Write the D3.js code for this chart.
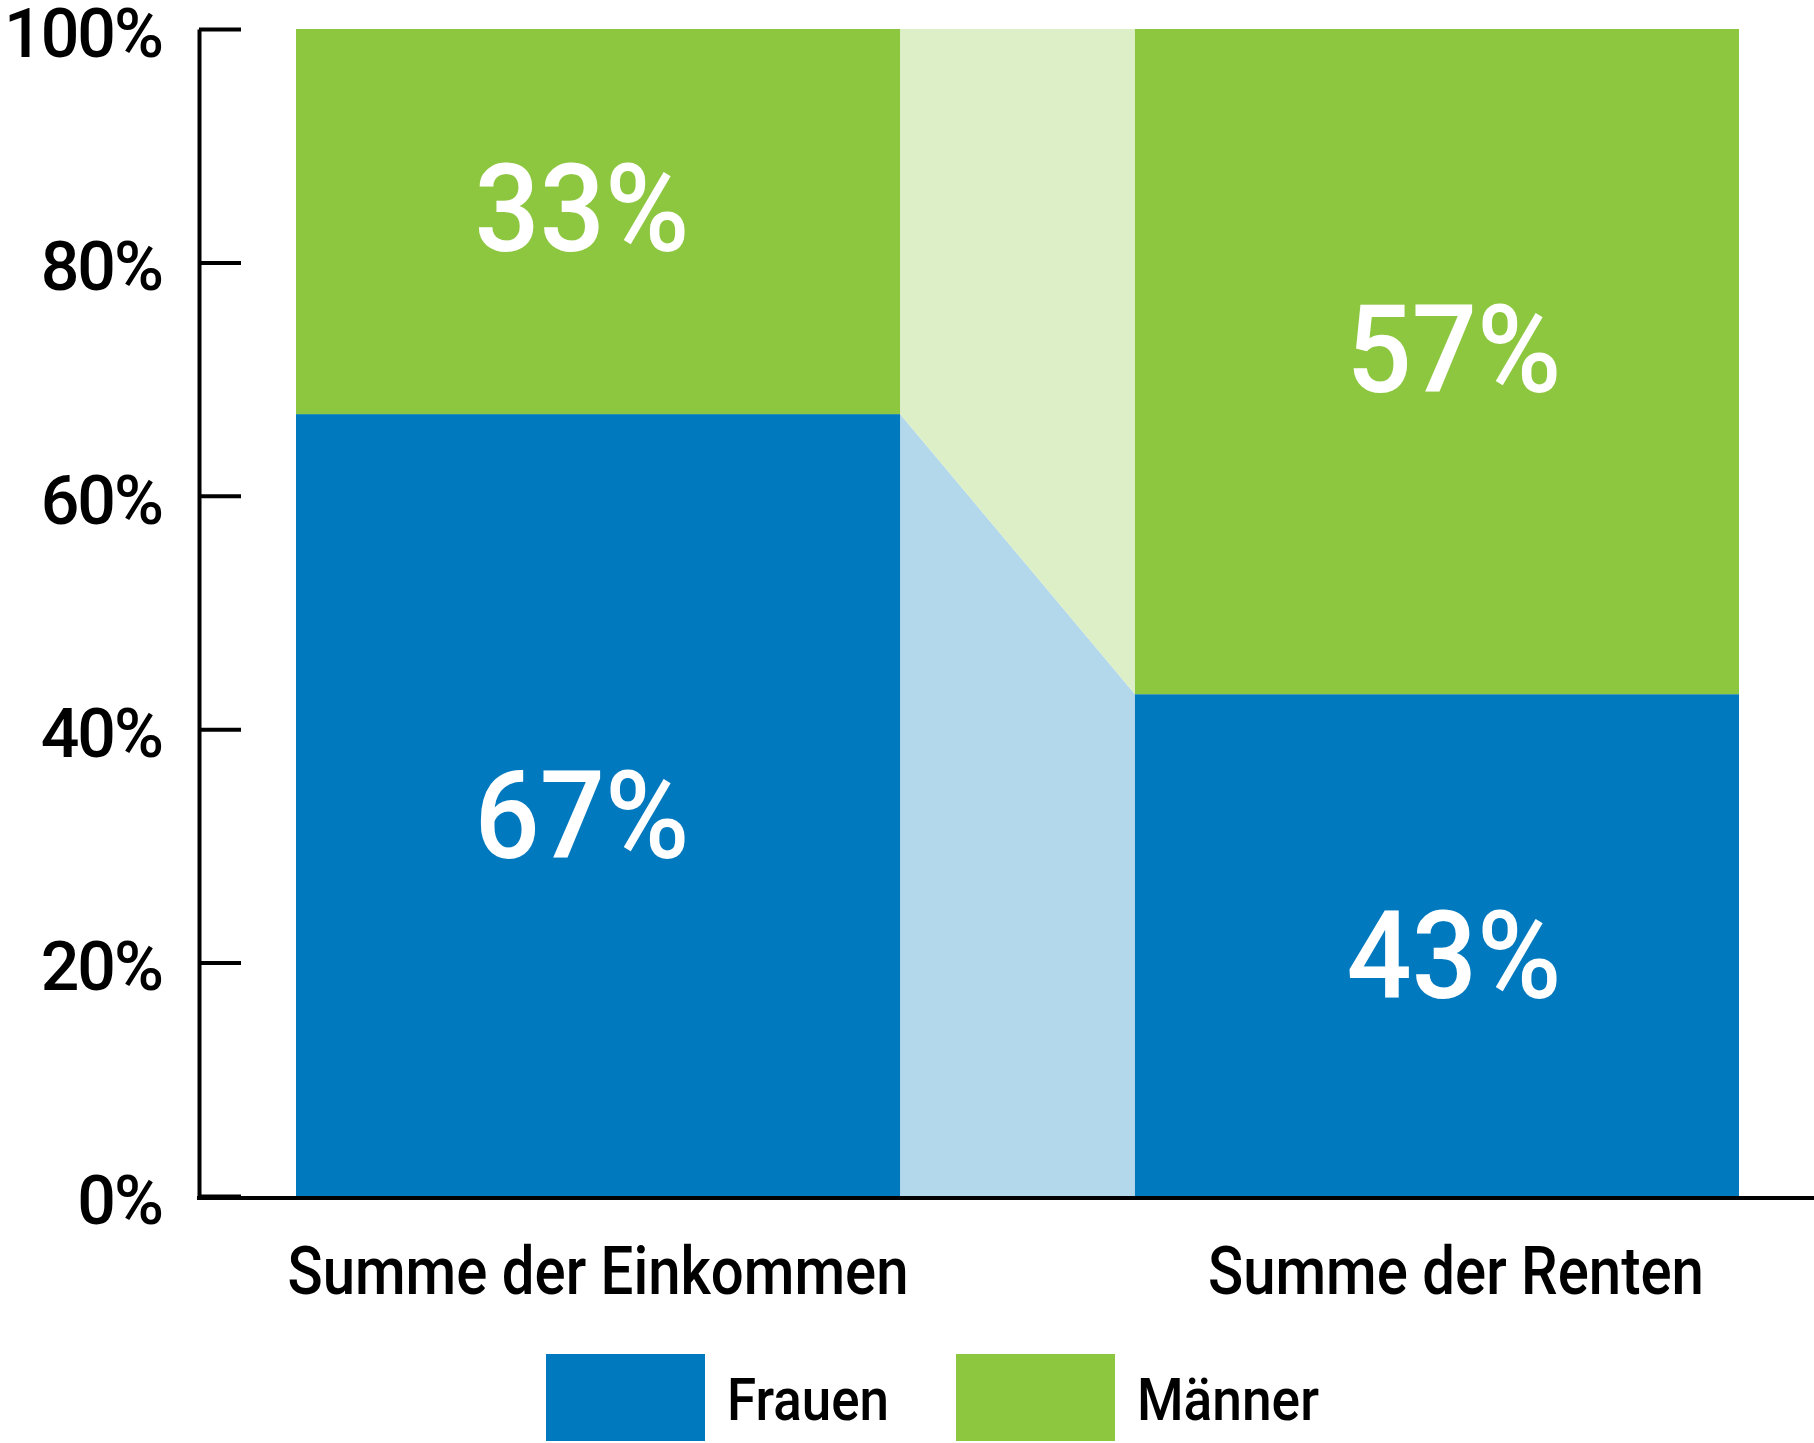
<!DOCTYPE html>
<html>
<head>
<meta charset="utf-8">
<script src="https://cdn.jsdelivr.net/npm/d3@7"></script>
<style>
  body { margin: 0; background: #fff; }
  svg { display: block; }
</style>
</head>
<body>
<div id="chart"></div>
<script>
// Data
const categories = ['Summe der Einkommen', 'Summe der Renten'];
const series = ['Frauen', 'Männer'];
const frauenValues = [0.67, 0.43];
const maennerValues = [0.33, 0.57];
const yTicks = [0, 0.2, 0.4, 0.6, 0.8, 1];

const colors = { Frauen: '#0079bf', 'Männer': '#8dc63f' };
const ribbonColors = { Frauen: '#b3d7eb', 'Männer': '#dcefc6' };

const width = 1814, height = 1443;
const font = 'Roboto, "Noto Sans", sans-serif';

const svg = d3.select('#chart')
    .append('svg')
    .attr('width', width)
    .attr('height', height);

// Scales
const x = d3.scaleBand()
    .domain(categories)
    .range([296, 1739])
    .paddingInner(0.28)
    .paddingOuter(0);

const y = d3.scaleLinear()
    .domain([0, 1])
    .range([1196, 29]);

// Stack data
const rows = categories.map((c, i) => ({ cat: c, Frauen: frauenValues[i], 'Männer': maennerValues[i] }));
const stacked = d3.stack().keys(series)(rows);

// Ribbons between the two bars
const c0 = categories[0], c1 = categories[1];
const xl = x(c0) + x.bandwidth();
const xr = x(c1);
stacked.forEach(layer => {
    const a = layer[0], b = layer[1];
    const pts = [[xl, y(a[0])], [xl, y(a[1])], [xr, y(b[1])], [xr, y(b[0])]];
    svg.append('polygon')
        .attr('points', pts.map(p => p.join(',')).join(' '))
        .attr('fill', ribbonColors[layer.key]);
});

// Bars
stacked.forEach(layer => {
    svg.append('g')
        .selectAll('rect')
        .data(layer)
        .join('rect')
        .attr('x', d => x(d.data.cat))
        .attr('y', d => y(d[1]))
        .attr('width', x.bandwidth())
        .attr('height', d => y(d[0]) - y(d[1]))
        .attr('fill', colors[layer.key]);
});

// Value labels inside bars (small offsets to sit like the original)
const labelDx = [-16, 17];
const labelDy = { Frauen: 9, 'Männer': -14 };
stacked.forEach(layer => {
    svg.append('g')
        .selectAll('text')
        .data(layer)
        .join('text')
        .attr('x', (d, i) => x(d.data.cat) + x.bandwidth() / 2 + labelDx[i])
        .attr('y', d => (y(d[0]) + y(d[1])) / 2 + labelDy[layer.key])
        .attr('dy', '0.36em')
        .attr('text-anchor', 'middle')
        .attr('fill', '#fff')
        .attr('font-family', font)
        .attr('font-weight', 500)
        .attr('font-size', 122)
        .attr('textLength', 215)
        .attr('lengthAdjust', 'spacingAndGlyphs')
        .text(d => Math.round((d[1] - d[0]) * 100) + '%');
});

// Y axis, ticks pointing inward
const yAxis = d3.axisLeft(y)
    .tickValues(yTicks)
    .tickFormat(d3.format('.0%'))
    .tickSizeInner(-42)
    .tickSizeOuter(0)
    .tickPadding(37);

const gy = svg.append('g')
    .attr('transform', 'translate(199,0)')
    .call(yAxis);
gy.select('.domain').attr('stroke', '#000').attr('stroke-width', 4);
gy.selectAll('.tick line').attr('stroke', '#000').attr('stroke-width', 4);
gy.selectAll('.tick text')
    .attr('fill', '#000')
    .attr('font-family', font)
    .attr('font-weight', 500)
    .attr('font-size', 68)
    .attr('letter-spacing', -2)
    .attr('dy', '0.4em');

// X axis baseline
svg.append('line')
    .attr('x1', 197)
    .attr('x2', width)
    .attr('y1', y(0) + 2)
    .attr('y2', y(0) + 2)
    .attr('stroke', '#000')
    .attr('stroke-width', 4);

// Category labels
const catDx = [0, 19];
const catWidths = [621, 496];
svg.append('g')
    .selectAll('text')
    .data(categories)
    .join('text')
    .attr('x', (d, i) => x(d) + x.bandwidth() / 2 + catDx[i])
    .attr('y', 1294)
    .attr('text-anchor', 'middle')
    .attr('fill', '#000')
    .attr('font-family', font)
    .attr('font-weight', 500)
    .attr('font-size', 67)
    .attr('textLength', (d, i) => catWidths[i])
    .attr('lengthAdjust', 'spacingAndGlyphs')
    .text(d => d);

// Legend
const legendX = [546, 956];
const legendTextW = [162, 182];
const legend = svg.append('g')
    .selectAll('g')
    .data(series)
    .join('g')
    .attr('transform', (d, i) => `translate(${legendX[i]},1354)`);

legend.append('rect')
    .attr('width', 159)
    .attr('height', 87)
    .attr('fill', d => colors[d]);

legend.append('text')
    .attr('x', 181)
    .attr('y', 66)
    .attr('fill', '#000')
    .attr('font-family', font)
    .attr('font-weight', 500)
    .attr('font-size', 60)
    .attr('textLength', (d, i) => legendTextW[i])
    .attr('lengthAdjust', 'spacingAndGlyphs')
    .text(d => d);
</script>
</body>
</html>
